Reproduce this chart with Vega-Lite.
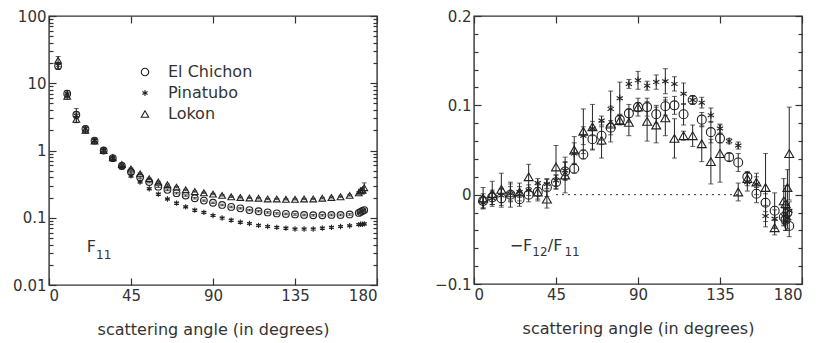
{
  "$schema": "https://vega.github.io/schema/vega-lite/v6.json",
  "padding": {"left": 11, "top": 8, "right": 5, "bottom": 5},
  "background": "white",
  "datasets": {
    "f11": [
      {"a":5,"s":"El Chichon","v":18,"e":2},{"a":5,"s":"Pinatubo","v":18.5,"e":2},{"a":5,"s":"Lokon","v":22,"e":3},
      {"a":10,"s":"El Chichon","v":7.0,"e":0.8},{"a":10,"s":"Pinatubo","v":7.0,"e":0.7},{"a":10,"s":"Lokon","v":6.4,"e":0.6},
      {"a":15,"s":"El Chichon","v":3.4,"e":0.8},{"a":15,"s":"Pinatubo","v":3.3,"e":0.3},{"a":15,"s":"Lokon","v":2.9,"e":0.3},
      {"a":20,"s":"El Chichon","v":2.1,"e":0.2},{"a":20,"s":"Pinatubo","v":2.1,"e":0.15},{"a":20,"s":"Lokon","v":2.0,"e":0.2},
      {"a":25,"s":"El Chichon","v":1.4,"e":0.1},{"a":25,"s":"Pinatubo","v":1.4,"e":0.08},{"a":25,"s":"Lokon","v":1.38,"e":0.1},
      {"a":30,"s":"El Chichon","v":1.0,"e":0.06},{"a":30,"s":"Pinatubo","v":1.0,"e":0.05},{"a":30,"s":"Lokon","v":1.0,"e":0.05},
      {"a":35,"s":"El Chichon","v":0.77,"e":0.04},{"a":35,"s":"Pinatubo","v":0.76,"e":0.04},{"a":35,"s":"Lokon","v":0.78,"e":0.04},
      {"a":40,"s":"El Chichon","v":0.59,"e":0.03},{"a":40,"s":"Pinatubo","v":0.56,"e":0.03},{"a":40,"s":"Lokon","v":0.62,"e":0.03},
      {"a":45,"s":"El Chichon","v":0.48,"e":0.02},{"a":45,"s":"Pinatubo","v":0.42,"e":0.02},{"a":45,"s":"Lokon","v":0.53,"e":0.02},
      {"a":50,"s":"El Chichon","v":0.40,"e":0.015},{"a":50,"s":"Pinatubo","v":0.34,"e":0.012},{"a":50,"s":"Lokon","v":0.45,"e":0.015},
      {"a":55,"s":"El Chichon","v":0.34,"e":0.01},{"a":55,"s":"Pinatubo","v":0.27,"e":0.01},{"a":55,"s":"Lokon","v":0.38,"e":0.01},
      {"a":60,"s":"El Chichon","v":0.29,"e":0.008},{"a":60,"s":"Pinatubo","v":0.225,"e":0.007},{"a":60,"s":"Lokon","v":0.34,"e":0.008},
      {"a":65,"s":"El Chichon","v":0.26,"e":0.007},{"a":65,"s":"Pinatubo","v":0.19,"e":0.006},{"a":65,"s":"Lokon","v":0.31,"e":0.007},
      {"a":70,"s":"El Chichon","v":0.232,"e":0.006},{"a":70,"s":"Pinatubo","v":0.165,"e":0.005},{"a":70,"s":"Lokon","v":0.285,"e":0.006},
      {"a":75,"s":"El Chichon","v":0.214,"e":0.005},{"a":75,"s":"Pinatubo","v":0.145,"e":0.004},{"a":75,"s":"Lokon","v":0.26,"e":0.005},
      {"a":80,"s":"El Chichon","v":0.195,"e":0.005},{"a":80,"s":"Pinatubo","v":0.13,"e":0.004},{"a":80,"s":"Lokon","v":0.245,"e":0.005},
      {"a":85,"s":"El Chichon","v":0.18,"e":0.004},{"a":85,"s":"Pinatubo","v":0.12,"e":0.003},{"a":85,"s":"Lokon","v":0.235,"e":0.005},
      {"a":90,"s":"El Chichon","v":0.167,"e":0.004},{"a":90,"s":"Pinatubo","v":0.108,"e":0.003},{"a":90,"s":"Lokon","v":0.225,"e":0.005},
      {"a":95,"s":"El Chichon","v":0.155,"e":0.004},{"a":95,"s":"Pinatubo","v":0.099,"e":0.003},{"a":95,"s":"Lokon","v":0.215,"e":0.005},
      {"a":100,"s":"El Chichon","v":0.145,"e":0.004},{"a":100,"s":"Pinatubo","v":0.092,"e":0.003},{"a":100,"s":"Lokon","v":0.205,"e":0.005},
      {"a":105,"s":"El Chichon","v":0.138,"e":0.003},{"a":105,"s":"Pinatubo","v":0.086,"e":0.002},{"a":105,"s":"Lokon","v":0.2,"e":0.004},
      {"a":110,"s":"El Chichon","v":0.13,"e":0.003},{"a":110,"s":"Pinatubo","v":0.082,"e":0.002},{"a":110,"s":"Lokon","v":0.197,"e":0.004},
      {"a":115,"s":"El Chichon","v":0.125,"e":0.003},{"a":115,"s":"Pinatubo","v":0.077,"e":0.002},{"a":115,"s":"Lokon","v":0.195,"e":0.004},
      {"a":120,"s":"El Chichon","v":0.12,"e":0.003},{"a":120,"s":"Pinatubo","v":0.074,"e":0.002},{"a":120,"s":"Lokon","v":0.19,"e":0.004},
      {"a":125,"s":"El Chichon","v":0.116,"e":0.003},{"a":125,"s":"Pinatubo","v":0.072,"e":0.002},{"a":125,"s":"Lokon","v":0.19,"e":0.004},
      {"a":130,"s":"El Chichon","v":0.114,"e":0.003},{"a":130,"s":"Pinatubo","v":0.07,"e":0.002},{"a":130,"s":"Lokon","v":0.188,"e":0.004},
      {"a":135,"s":"El Chichon","v":0.112,"e":0.003},{"a":135,"s":"Pinatubo","v":0.068,"e":0.002},{"a":135,"s":"Lokon","v":0.188,"e":0.004},
      {"a":140,"s":"El Chichon","v":0.11,"e":0.003},{"a":140,"s":"Pinatubo","v":0.068,"e":0.002},{"a":140,"s":"Lokon","v":0.19,"e":0.004},
      {"a":145,"s":"El Chichon","v":0.109,"e":0.003},{"a":145,"s":"Pinatubo","v":0.068,"e":0.002},{"a":145,"s":"Lokon","v":0.19,"e":0.004},
      {"a":150,"s":"El Chichon","v":0.109,"e":0.003},{"a":150,"s":"Pinatubo","v":0.07,"e":0.002},{"a":150,"s":"Lokon","v":0.195,"e":0.004},
      {"a":155,"s":"El Chichon","v":0.11,"e":0.003},{"a":155,"s":"Pinatubo","v":0.072,"e":0.002},{"a":155,"s":"Lokon","v":0.2,"e":0.004},
      {"a":160,"s":"El Chichon","v":0.11,"e":0.003},{"a":160,"s":"Pinatubo","v":0.074,"e":0.002},{"a":160,"s":"Lokon","v":0.205,"e":0.004},
      {"a":165,"s":"El Chichon","v":0.112,"e":0.003},{"a":165,"s":"Pinatubo","v":0.076,"e":0.002},{"a":165,"s":"Lokon","v":0.215,"e":0.005},
      {"a":170,"s":"El Chichon","v":0.118,"e":0.004},{"a":170,"s":"Pinatubo","v":0.079,"e":0.002},{"a":170,"s":"Lokon","v":0.235,"e":0.01},
      {"a":171,"s":"El Chichon","v":0.122,"e":0.004},{"a":171,"s":"Pinatubo","v":0.08,"e":0.002},{"a":171,"s":"Lokon","v":0.25,"e":0.015},
      {"a":172,"s":"El Chichon","v":0.126,"e":0.004},{"a":172,"s":"Pinatubo","v":0.08,"e":0.002},{"a":172,"s":"Lokon","v":0.26,"e":0.02},
      {"a":173,"s":"El Chichon","v":0.13,"e":0.005},{"a":173,"s":"Pinatubo","v":0.081,"e":0.003},{"a":173,"s":"Lokon","v":0.28,"e":0.05}
    ],
    "pol": [
      {"a":5,"s":"El Chichon","v":-0.007,"e":0.008},{"a":5,"s":"Pinatubo","v":-0.009,"e":0.006},{"a":5,"s":"Lokon","v":-0.004,"e":0.012},
      {"a":10,"s":"El Chichon","v":-0.003,"e":0.008},{"a":10,"s":"Pinatubo","v":-0.004,"e":0.007},{"a":10,"s":"Lokon","v":0.001,"e":0.014},
      {"a":15,"s":"El Chichon","v":-0.004,"e":0.01},{"a":15,"s":"Pinatubo","v":-0.001,"e":0.008},{"a":15,"s":"Lokon","v":0.006,"e":0.018},
      {"a":20,"s":"El Chichon","v":0.0,"e":0.014},{"a":20,"s":"Pinatubo","v":0.001,"e":0.008},{"a":20,"s":"Lokon","v":0.002,"e":0.01},
      {"a":25,"s":"El Chichon","v":-0.005,"e":0.008},{"a":25,"s":"Pinatubo","v":0.003,"e":0.006},{"a":25,"s":"Lokon","v":0.003,"e":0.01},
      {"a":30,"s":"El Chichon","v":0.0,"e":0.008},{"a":30,"s":"Pinatubo","v":0.005,"e":0.006},{"a":30,"s":"Lokon","v":0.02,"e":0.014},
      {"a":35,"s":"El Chichon","v":0.003,"e":0.01},{"a":35,"s":"Pinatubo","v":0.013,"e":0.005},{"a":35,"s":"Lokon","v":0.003,"e":0.008},
      {"a":40,"s":"El Chichon","v":0.008,"e":0.01},{"a":40,"s":"Pinatubo","v":0.012,"e":0.005},{"a":40,"s":"Lokon","v":-0.005,"e":0.01},
      {"a":45,"s":"El Chichon","v":0.014,"e":0.008},{"a":45,"s":"Pinatubo","v":0.016,"e":0.006},{"a":45,"s":"Lokon","v":0.031,"e":0.024},
      {"a":50,"s":"El Chichon","v":0.026,"e":0.01},{"a":50,"s":"Pinatubo","v":0.027,"e":0.01},{"a":50,"s":"Lokon","v":0.022,"e":0.02},
      {"a":55,"s":"El Chichon","v":0.029,"e":0.005},{"a":55,"s":"Pinatubo","v":0.046,"e":0.012},{"a":55,"s":"Lokon","v":0.05,"e":0.015},
      {"a":60,"s":"El Chichon","v":0.045,"e":0.005},{"a":60,"s":"Pinatubo","v":0.066,"e":0.01},{"a":60,"s":"Lokon","v":0.071,"e":0.025},
      {"a":65,"s":"El Chichon","v":0.062,"e":0.012},{"a":65,"s":"Pinatubo","v":0.074,"e":0.008},{"a":65,"s":"Lokon","v":0.076,"e":0.025},
      {"a":70,"s":"El Chichon","v":0.066,"e":0.01},{"a":70,"s":"Pinatubo","v":0.083,"e":0.005},{"a":70,"s":"Lokon","v":0.061,"e":0.02},
      {"a":75,"s":"El Chichon","v":0.075,"e":0.008},{"a":75,"s":"Pinatubo","v":0.096,"e":0.02},{"a":75,"s":"Lokon","v":0.079,"e":0.02},
      {"a":80,"s":"El Chichon","v":0.084,"e":0.005},{"a":80,"s":"Pinatubo","v":0.108,"e":0.018},{"a":80,"s":"Lokon","v":0.083,"e":0.005},
      {"a":85,"s":"El Chichon","v":0.091,"e":0.01},{"a":85,"s":"Pinatubo","v":0.124,"e":0.005},{"a":85,"s":"Lokon","v":0.081,"e":0.015},
      {"a":90,"s":"El Chichon","v":0.098,"e":0.01},{"a":90,"s":"Pinatubo","v":0.128,"e":0.01},{"a":90,"s":"Lokon","v":0.098,"e":0.005},
      {"a":95,"s":"El Chichon","v":0.098,"e":0.01},{"a":95,"s":"Pinatubo","v":0.122,"e":0.005},{"a":95,"s":"Lokon","v":0.082,"e":0.022},
      {"a":100,"s":"El Chichon","v":0.09,"e":0.01},{"a":100,"s":"Pinatubo","v":0.126,"e":0.008},{"a":100,"s":"Lokon","v":0.078,"e":0.02},
      {"a":105,"s":"El Chichon","v":0.099,"e":0.01},{"a":105,"s":"Pinatubo","v":0.127,"e":0.014},{"a":105,"s":"Lokon","v":0.086,"e":0.02},
      {"a":110,"s":"El Chichon","v":0.1,"e":0.01},{"a":110,"s":"Pinatubo","v":0.124,"e":0.008},{"a":110,"s":"Lokon","v":0.063,"e":0.022},
      {"a":115,"s":"El Chichon","v":0.09,"e":0.012},{"a":115,"s":"Pinatubo","v":0.113,"e":0.012},{"a":115,"s":"Lokon","v":0.066,"e":0.005},
      {"a":120,"s":"El Chichon","v":0.106,"e":0.004},{"a":120,"s":"Pinatubo","v":0.106,"e":0.005},{"a":120,"s":"Lokon","v":0.066,"e":0.012},
      {"a":125,"s":"El Chichon","v":0.084,"e":0.008},{"a":125,"s":"Pinatubo","v":0.103,"e":0.006},{"a":125,"s":"Lokon","v":0.057,"e":0.02},
      {"a":130,"s":"El Chichon","v":0.07,"e":0.012},{"a":130,"s":"Pinatubo","v":0.089,"e":0.008},{"a":130,"s":"Lokon","v":0.037,"e":0.025},
      {"a":135,"s":"El Chichon","v":0.063,"e":0.005},{"a":135,"s":"Pinatubo","v":0.074,"e":0.005},{"a":135,"s":"Lokon","v":0.046,"e":0.032},
      {"a":140,"s":"El Chichon","v":0.042,"e":0.004},{"a":140,"s":"Pinatubo","v":0.06,"e":0.003},
      {"a":145,"s":"El Chichon","v":0.036,"e":0.01},{"a":145,"s":"Pinatubo","v":0.055,"e":0.004},{"a":145,"s":"Lokon","v":0.003,"e":0.01},
      {"a":150,"s":"El Chichon","v":0.02,"e":0.005},{"a":150,"s":"Pinatubo","v":0.014,"e":0.01},{"a":150,"s":"Lokon","v":0.018,"e":0.008},
      {"a":155,"s":"El Chichon","v":0.001,"e":0.01},{"a":155,"s":"Pinatubo","v":0.012,"e":0.012},{"a":155,"s":"Lokon","v":0.014,"e":0.006},
      {"a":160,"s":"El Chichon","v":-0.009,"e":0.01},{"a":160,"s":"Pinatubo","v":-0.024,"e":0.012},{"a":160,"s":"Lokon","v":0.008,"e":0.038},
      {"a":165,"s":"El Chichon","v":-0.018,"e":0.02},{"a":165,"s":"Pinatubo","v":-0.027,"e":0.01},{"a":165,"s":"Lokon","v":-0.037,"e":0.008},
      {"a":170,"s":"El Chichon","v":-0.025,"e":0.01},{"a":170,"s":"Pinatubo","v":-0.024,"e":0.01},{"a":170,"s":"Lokon","v":-0.007,"e":0.025},
      {"a":171,"s":"El Chichon","v":-0.028,"e":0.012},{"a":171,"s":"Pinatubo","v":-0.03,"e":0.01},{"a":171,"s":"Lokon","v":-0.01,"e":0.02},
      {"a":172,"s":"El Chichon","v":-0.02,"e":0.01},{"a":172,"s":"Pinatubo","v":-0.026,"e":0.012},{"a":172,"s":"Lokon","v":0.008,"e":0.02},
      {"a":173,"s":"El Chichon","v":-0.035,"e":0.012},{"a":173,"s":"Pinatubo","v":-0.018,"e":0.01},{"a":173,"s":"Lokon","v":0.046,"e":0.052}
    ]
  },
  "hconcat": [
    {
      "width": 328,
      "height": 269,
      "resolve": {"axis": {"x": "independent", "y": "independent"}},
      "layer": [
        {
          "data": {"name": "f11"},
          "mark": {"type": "errorbar", "ticks": {"size": 5}, "thickness": 1, "color": "#222"},
          "encoding": {
            "x": {"field": "a", "type": "quantitative", "scale": {"domain": [0, 180], "nice": false},
                  "axis": {"orient": "bottom", "values": [0, 45, 90, 135, 180], "tickSize": -7, "title": "scattering angle (in degrees)"}},
            "y": {"field": "v", "type": "quantitative", "scale": {"type": "log", "domain": [0.01, 100], "nice": false},
                  "axis": {"orient": "left", "values": [0.01, 0.1, 1, 10, 100], "format": "~g", "tickSize": -7, "title": null}},
            "yError": {"field": "e"}
          }
        },
        {
          "data": {"name": "f11"},
          "mark": {"type": "point", "filled": false, "size": 45, "strokeWidth": 1.1, "color": "#222", "opacity": 1},
          "encoding": {
            "x": {"field": "a", "type": "quantitative", "axis": {"orient": "top", "values": [0, 45, 90, 135, 180], "tickSize": -7, "labels": false, "title": null}},
            "y": {"field": "v", "type": "quantitative", "axis": {"orient": "right", "values": [0.01, 0.1, 1, 10, 100], "tickSize": -7, "labels": false, "title": null}},
            "shape": {"field": "s", "type": "nominal",
                      "scale": {"domain": ["El Chichon", "Pinatubo", "Lokon"], "range": ["circle", "M0,-0.8L0,0.8M-0.7,-0.4L0.7,0.4M-0.7,0.4L0.7,-0.4", "triangle-up"]},
                      "legend": {"orient": "none", "legendX": 88, "legendY": 48, "title": null, "symbolSize": 55, "symbolStrokeColor": "#222", "symbolFillColor": "transparent", "symbolStrokeWidth": 1.1, "labelFontSize": 16, "labelFont": "DejaVu Sans", "labelColor": "#333", "rowPadding": 5, "labelOffset": 15}}
          }
        },
        {
          "data": {"values": [{}]},
          "mark": {"type": "text", "text": "F", "align": "left", "baseline": "middle", "fontSize": 16, "font": "DejaVu Sans", "color": "#333"},
          "encoding": {
            "x": {"datum": 20.7, "type": "quantitative", "axis": null},
            "y": {"datum": 0.037, "type": "quantitative", "axis": {"orient": "left", "values": [0.02,0.03,0.04,0.05,0.06,0.07,0.08,0.09,0.2,0.3,0.4,0.5,0.6,0.7,0.8,0.9,2,3,4,5,6,7,8,9,20,30,40,50,60,70,80,90], "tickSize": -4, "labels": false, "title": null}}
          }
        },
        {
          "data": {"values": [{}]},
          "mark": {"type": "text", "text": "11", "align": "left", "baseline": "middle", "fontSize": 12, "font": "DejaVu Sans", "color": "#333"},
          "encoding": {
            "x": {"datum": 25.8, "type": "quantitative", "axis": null},
            "y": {"datum": 0.028, "type": "quantitative", "axis": {"orient": "right", "values": [0.02,0.03,0.04,0.05,0.06,0.07,0.08,0.09,0.2,0.3,0.4,0.5,0.6,0.7,0.8,0.9,2,3,4,5,6,7,8,9,20,30,40,50,60,70,80,90], "tickSize": -4, "labels": false, "title": null}}
          }
        }
      ]
    },
    {
      "width": 328,
      "height": 268,
      "resolve": {"axis": {"x": "independent", "y": "independent"}},
      "layer": [
        {
          "data": {"name": "pol"},
          "mark": {"type": "errorbar", "ticks": {"size": 5}, "thickness": 1, "color": "#222"},
          "encoding": {
            "x": {"field": "a", "type": "quantitative", "scale": {"domain": [0, 180], "nice": false},
                  "axis": {"orient": "bottom", "values": [0, 45, 90, 135, 180], "tickSize": -7, "title": "scattering angle (in degrees)"}},
            "y": {"field": "v", "type": "quantitative", "scale": {"domain": [-0.1, 0.2], "nice": false, "zero": false},
                  "axis": {"orient": "left", "values": [-0.1, 0, 0.1, 0.2], "format": "~g", "tickSize": -7, "title": null}},
            "yError": {"field": "e"}
          }
        },
        {
          "data": {"name": "pol"},
          "mark": {"type": "point", "filled": false, "size": 80, "strokeWidth": 1.1, "color": "#222", "opacity": 1},
          "encoding": {
            "x": {"field": "a", "type": "quantitative", "axis": {"orient": "top", "values": [0, 45, 90, 135, 180], "tickSize": -7, "labels": false, "title": null}},
            "y": {"field": "v", "type": "quantitative", "axis": {"orient": "right", "values": [-0.1, 0, 0.1, 0.2], "tickSize": -7, "labels": false, "title": null}},
            "shape": {"field": "s", "type": "nominal",
                      "scale": {"domain": ["El Chichon", "Pinatubo", "Lokon"], "range": ["circle", "M0,-0.8L0,0.8M-0.7,-0.4L0.7,0.4M-0.7,0.4L0.7,-0.4", "triangle-up"]},
                      "legend": null}
          }
        },
        {
          "data": {"values": [{}]},
          "mark": {"type": "rule", "strokeDash": [2, 4], "color": "#333", "strokeWidth": 1},
          "encoding": {
            "x": {"datum": 45, "type": "quantitative", "axis": null},
            "x2": {"datum": 145},
            "y": {"datum": 0, "type": "quantitative", "axis": {"orient": "left", "values": [-0.08,-0.06,-0.04,-0.02,0.02,0.04,0.06,0.08,0.12,0.14,0.16,0.18], "tickSize": -4, "labels": false, "title": null}}
          }
        },
        {
          "data": {"values": [{}]},
          "mark": {"type": "text", "text": "−F", "align": "left", "baseline": "middle", "fontSize": 16, "font": "DejaVu Sans", "color": "#333"},
          "encoding": {
            "x": {"datum": 19.6, "type": "quantitative", "axis": null},
            "y": {"datum": -0.057, "type": "quantitative", "axis": {"orient": "right", "values": [-0.08,-0.06,-0.04,-0.02,0.02,0.04,0.06,0.08,0.12,0.14,0.16,0.18], "tickSize": -4, "labels": false, "title": null}}
          }
        },
        {
          "data": {"values": [{}]},
          "mark": {"type": "text", "text": "12", "align": "left", "baseline": "middle", "fontSize": 12, "font": "DejaVu Sans", "color": "#333"},
          "encoding": {
            "x": {"datum": 32.0, "type": "quantitative", "axis": null},
            "y": {"datum": -0.064, "type": "quantitative", "axis": null}
          }
        },
        {
          "data": {"values": [{}]},
          "mark": {"type": "text", "text": "/F", "align": "left", "baseline": "middle", "fontSize": 16, "font": "DejaVu Sans", "color": "#333"},
          "encoding": {
            "x": {"datum": 40.5, "type": "quantitative", "axis": null},
            "y": {"datum": -0.057, "type": "quantitative", "axis": null}
          }
        },
        {
          "data": {"values": [{}]},
          "mark": {"type": "text", "text": "11", "align": "left", "baseline": "middle", "fontSize": 12, "font": "DejaVu Sans", "color": "#333"},
          "encoding": {
            "x": {"datum": 49.6, "type": "quantitative", "axis": null},
            "y": {"datum": -0.064, "type": "quantitative", "axis": null}
          }
        }
      ]
    }
  ],
  "spacing": 54,
  "resolve": {"scale": {"shape": "independent"}, "legend": {"shape": "independent"}},
  "config": {
    "view": {"stroke": "#333", "strokeWidth": 1.4},
    "axis": {"domain": false, "grid": false, "tickColor": "#333", "tickWidth": 1.2, "labelFont": "DejaVu Sans", "labelFontSize": 15, "labelColor": "#333", "labelPadding": 10, "titleFont": "DejaVu Sans", "titleFontSize": 16, "titleFontWeight": "normal", "titleColor": "#333", "titlePadding": 18}
  }
}
